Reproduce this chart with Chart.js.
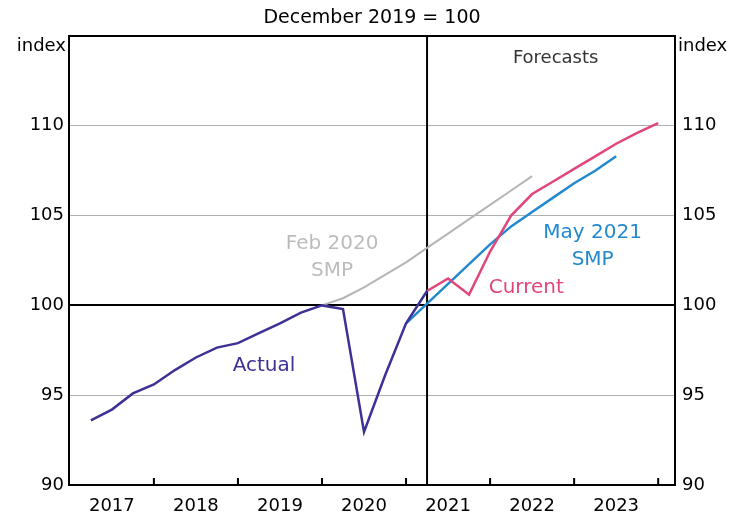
<!DOCTYPE html>
<html><head><meta charset="utf-8">
<script src="https://cdn.jsdelivr.net/npm/chart.js@4/dist/chart.umd.min.js"></script>
<style>html,body{margin:0;padding:0;background:#fff}#wrap{width:733px;height:522px;position:relative}canvas{display:block}</style>
</head><body><div id="wrap"><canvas id="c" width="733" height="522" style="width:733px;height:522px"></canvas></div>
<script>
// ---- data ----
const actualQuarters = ['2017Q1','2017Q2','2017Q3','2017Q4','2018Q1','2018Q2','2018Q3','2018Q4','2019Q1','2019Q2','2019Q3','2019Q4','2020Q1','2020Q2','2020Q3','2020Q4','2021Q1'];
const actualValues   = [93.6,94.2,95.1,95.6,96.4,97.1,97.65,97.9,98.45,99.0,99.6,100.0,99.8,92.95,96.1,99.0,100.8];

const feb2020Quarters = ['2019Q4','2020Q1','2020Q2','2020Q3','2020Q4','2021Q1','2021Q2','2021Q3','2021Q4','2022Q1','2022Q2'];
const feb2020Values   = [100.0,100.4,101.0,101.7,102.4,103.2,104.0,104.8,105.6,106.4,107.2];

const may2021Quarters = ['2020Q4','2021Q1','2021Q2','2021Q3','2021Q4','2022Q1','2022Q2','2022Q3','2022Q4','2023Q1','2023Q2'];
const may2021Values   = [99.0,100.1,101.2,102.3,103.4,104.4,105.2,106.0,106.8,107.5,108.3];

const currentQuarters = ['2021Q1','2021Q2','2021Q3','2021Q4','2022Q1','2022Q2','2022Q3','2022Q4','2023Q1','2023Q2','2023Q3','2023Q4'];
const currentValues   = [100.8,101.5,100.6,103.0,105.0,106.2,106.9,107.6,108.3,109.0,109.6,110.15];

const yearLabels = ['2017','2018','2019','2020','2021','2022','2023'];
const yTickValues = [90,95,100,105,110];
const forecastStart = '2021Q1';

// ---- helpers ----
const qx = s => Number(s.slice(0,4)) + Number(s.slice(5)) * 0.25;
const pts = (qs, vs) => qs.map((q,i) => ({x: qx(q), y: vs[i]}));
const yearMids = yearLabels.map(y => Number(y) + 0.5);
const yearBounds = yearLabels.map(y => Number(y) + 1);

const C = {actual:'#3d3196', current:'#e2457c', may:'#2389cf', feb:'#b5b5b5'};
const FONT = 'DejaVu Sans';

const labels = [
  {lines:['Actual'], x:2019.31, y:96.64, color:C.actual},
  {lines:['Feb 2020','SMP'], x:2020.12, y:103.44, color:'#bcbcbc', gap:1.5},
  {lines:['Current'], x:2022.43, y:101.0, color:C.current},
  {lines:['May 2021','SMP'], x:2023.22, y:104.06, color:C.may, gap:1.5},
  {lines:['Forecasts'], x:2022.78, y:113.75, color:'#333333', size:18}
];

const overlay = {
  id:'overlay',
  beforeDatasetsDraw(chart){
    const {ctx, chartArea:a, scales:{x}} = chart;
    const px = x.getPixelForValue(qx(forecastStart));
    ctx.save();
    ctx.strokeStyle = '#000'; ctx.lineWidth = 2;
    ctx.beginPath(); ctx.moveTo(px, a.top); ctx.lineTo(px, a.bottom); ctx.stroke();
    ctx.restore();
  },
  afterDatasetsDraw(chart){
    const {ctx, chartArea:a, scales:{x, y}} = chart;
    ctx.save();
    ctx.strokeStyle = '#000'; ctx.lineWidth = 2;
    ctx.strokeRect(a.left, a.top, a.right - a.left, a.bottom - a.top);
    ctx.beginPath();
    yearBounds.forEach(v => {
      const px = x.getPixelForValue(v);
      ctx.moveTo(px, a.bottom); ctx.lineTo(px, a.bottom - 7);
    });
    ctx.stroke();
    ctx.textAlign = 'center'; ctx.textBaseline = 'middle';
    labels.forEach(l => {
      ctx.fillStyle = l.color;
      ctx.font = (l.size || 20) + 'px "' + FONT + '"';
      l.lines.forEach((t, i) => {
        ctx.fillText(t, x.getPixelForValue(l.x), y.getPixelForValue(l.y - i * (l.gap || 0)));
      });
    });
    ctx.fillStyle = '#000';
    ctx.font = '19px "' + FONT + '"';
    ctx.fillText('December 2019 = 100', (a.left + a.right) / 2, 18);
    ctx.font = '18px "' + FONT + '"';
    ctx.textAlign = 'right';
    ctx.fillText('index', a.left - 3, 46);
    ctx.textAlign = 'left';
    ctx.fillText('index', a.right + 3, 46);
    ctx.restore();
  }
};

const tickFont = {family: FONT, size: 18};

new Chart(document.getElementById('c'), {
  type: 'line',
  data: {
    datasets: [
      {label:'Actual', data: pts(actualQuarters, actualValues), borderColor:C.actual, borderWidth:2.5, order:1},
      {label:'Current', data: pts(currentQuarters, currentValues), borderColor:C.current, borderWidth:2.5, order:2},
      {label:'May 2021 SMP', data: pts(may2021Quarters, may2021Values), borderColor:C.may, borderWidth:2.5, order:3},
      {label:'Feb 2020 SMP', data: pts(feb2020Quarters, feb2020Values), borderColor:C.feb, borderWidth:2, order:4}
    ]
  },
  options: {
    responsive: false,
    animation: false,
    devicePixelRatio: 1,
    elements: {point:{radius:0}, line:{tension:0}},
    layout: {padding:{top:36, left:0, right:0, bottom:0}},
    plugins: {legend:{display:false}, tooltip:{enabled:false}},
    scales: {
      x: {
        type:'linear', min:2016.99, max:2024.2,
        afterBuildTicks: s => { s.ticks = yearMids.map(v => ({value:v})); },
        ticks: {font:tickFont, color:'#000', padding:11, maxRotation:0, autoSkip:false,
          callback: (v, i) => yearLabels[i]},
        grid: {display:false, drawTicks:false},
        border: {display:false},
        afterFit: s => { s.height = 37; }
      },
      y: {
        position:'left', min:90, max:115,
        afterBuildTicks: s => { s.ticks = yTickValues.map(v => ({value:v})); },
        ticks: {font:tickFont, color:'#000', padding:5},
        grid: {drawTicks:false, color: c => c.tick.value === 100 ? '#000' : '#b0b0b0',
          lineWidth: c => c.tick.value === 100 ? 2 : 1},
        border: {display:false},
        afterFit: s => { s.width = 69; }
      },
      y2: {
        position:'right', min:90, max:115,
        afterBuildTicks: s => { s.ticks = yTickValues.map(v => ({value:v})); },
        ticks: {font:tickFont, color:'#000', padding:7},
        grid: {display:false, drawTicks:false},
        border: {display:false},
        afterFit: s => { s.width = 58; }
      }
    }
  },
  plugins: [overlay]
});
</script>
</body></html>
